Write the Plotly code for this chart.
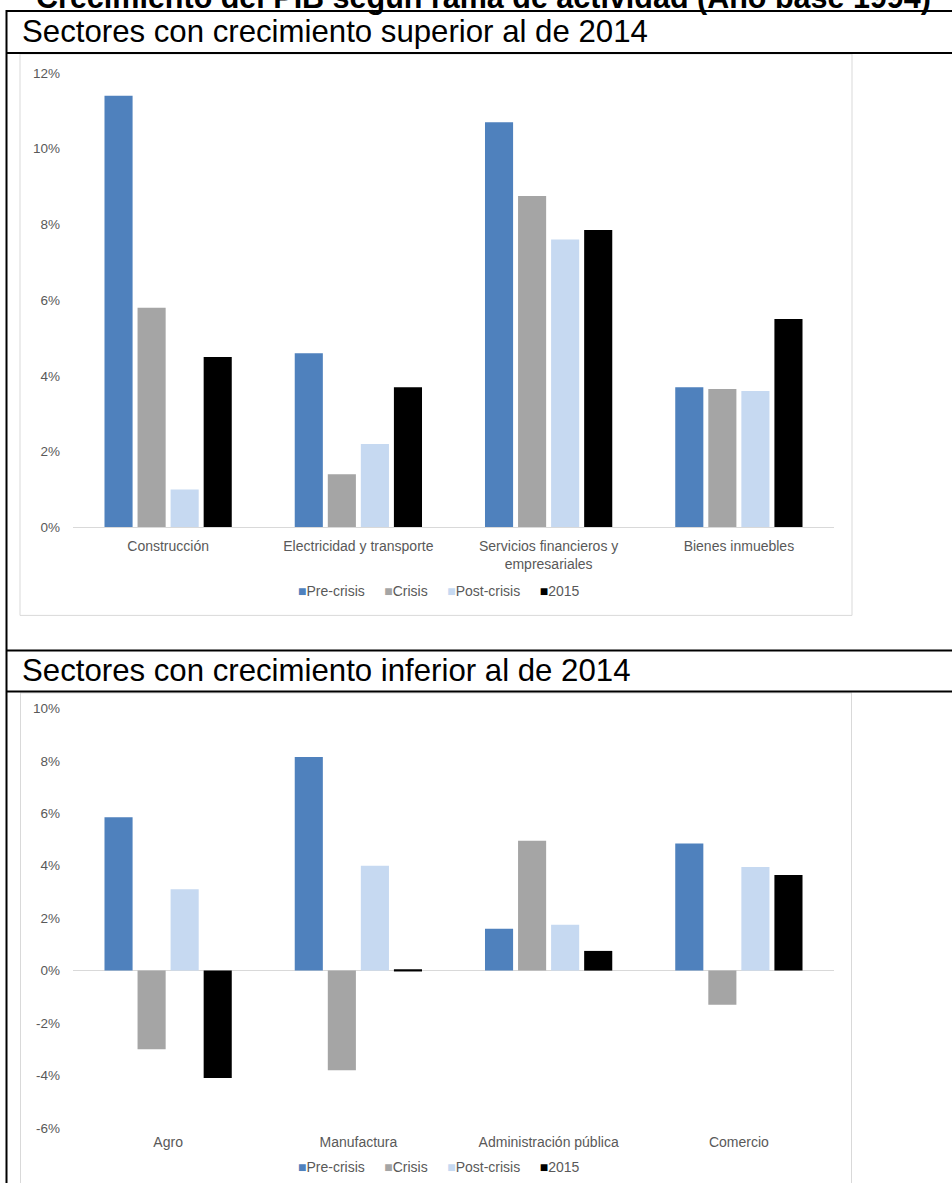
import plotly.graph_objects as go

# Sectores con crecimiento superior al de 2014
cats_sup = ["Construcción", "Electricidad y transporte",
            "Servicios financieros y<br>empresariales", "Bienes inmuebles"]
pre_sup = [11.4, 4.6, 10.7, 3.7]
crisis_sup = [5.8, 1.4, 8.75, 3.65]
post_sup = [1.0, 2.2, 7.6, 3.6]
y2015_sup = [4.5, 3.7, 7.85, 5.5]
ticks_sup = [0, 2, 4, 6, 8, 10, 12]
ticklabels_sup = ["0%", "2%", "4%", "6%", "8%", "10%", "12%"]

# Sectores con crecimiento inferior al de 2014
cats_inf = ["Agro", "Manufactura", "Administración pública", "Comercio"]
pre_inf = [5.85, 8.15, 1.6, 4.85]
crisis_inf = [-3.0, -3.8, 4.95, -1.3]
post_inf = [3.1, 4.0, 1.75, 3.95]
y2015_inf = [-4.1, 0.05, 0.75, 3.65]
ticks_inf = [-6, -4, -2, 0, 2, 4, 6, 8, 10]
ticklabels_inf = ["-6%", "-4%", "-2%", "0%", "2%", "4%", "6%", "8%", "10%"]

series_names = ["Pre-crisis", "Crisis", "Post-crisis", "2015"]
series_colors = ["#4F81BD", "#A5A5A5", "#C6D9F1", "#000000"]

# Layout is specified in screen rows of the final 952 x 1183 view.
# The figure sits a few pixels below the top of the page and the view
# is slightly compressed vertically, so rows are converted accordingly.
ROW0, ROW_SCALE = 7.1, 0.9866
W = 952
H = 1192
FONT = "Liberation Sans, Arial, sans-serif"
GREY_TXT = "#595959"
FRAME = "#D9D9D9"


def px(x):
    return x / W


def py(row):
    """screen row -> paper fraction"""
    return 1 - ((row - ROW0) / ROW_SCALE) / H


fig = go.Figure()

for name, color, vals in zip(series_names, series_colors,
                             [pre_sup, crisis_sup, post_sup, y2015_sup]):
    fig.add_trace(go.Bar(x=cats_sup, y=vals, name=name, marker_color=color,
                         marker_line_width=0, xaxis="x", yaxis="y",
                         showlegend=False))

for name, color, vals in zip(series_names, series_colors,
                             [pre_inf, crisis_inf, post_inf, y2015_inf]):
    fig.add_trace(go.Bar(x=cats_inf, y=vals, name=name, marker_color=color,
                         marker_line_width=0, xaxis="x2", yaxis="y2",
                         showlegend=False))

x_dom = [px(73), px(834)]
axis_common = dict(showgrid=False, ticks="", fixedrange=True)

fig.update_layout(
    width=W, height=H,
    margin=dict(l=0, r=0, t=0, b=0),
    paper_bgcolor="white",
    plot_bgcolor="rgba(0,0,0,0)",
    barmode="group",
    bargap=0.305,
    bargroupgap=0.15,
    font=dict(family=FONT, color=GREY_TXT),
    xaxis=dict(domain=x_dom, anchor="y", showline=True, linecolor=FRAME,
               linewidth=1, tickfont=dict(size=14, color=GREY_TXT),
               ticklabelstandoff=6, **axis_common),
    yaxis=dict(domain=[py(527), py(73)], anchor="x", range=[0, 12],
               tickvals=ticks_sup, ticktext=ticklabels_sup, zeroline=False,
               tickfont=dict(size=13.5, color=GREY_TXT), ticklabelstandoff=12,
               **axis_common),
    xaxis2=dict(domain=x_dom, anchor="y2", showline=False,
                tickfont=dict(size=14, color=GREY_TXT), ticklabelstandoff=4,
                **axis_common),
    yaxis2=dict(domain=[py(1127), py(708)], anchor="x2", range=[-6, 10],
                tickvals=ticks_inf, ticktext=ticklabels_inf, zeroline=True,
                zerolinecolor=FRAME, zerolinewidth=1,
                tickfont=dict(size=13.5, color=GREY_TXT), ticklabelstandoff=12,
                **axis_common),
)


def hline(y, x0, x1, color, width, layer="above"):
    return dict(type="line", xref="paper", yref="paper",
                x0=px(x0), x1=px(x1), y0=py(y), y1=py(y),
                line=dict(color=color, width=width), layer=layer)


def vline(x, y0, y1, color, width, layer="above"):
    return dict(type="line", xref="paper", yref="paper",
                x0=px(x), x1=px(x), y0=py(y1), y1=py(y0),
                line=dict(color=color, width=width), layer=layer)


BOTTOM = 1184
shapes = []
# upper chart frame
shapes.append(dict(type="rect", xref="paper", yref="paper",
                   x0=px(20), x1=px(852), y0=py(615), y1=py(54),
                   line=dict(color=FRAME, width=1),
                   fillcolor="white", layer="below"))
# lower chart frame, open at the bottom of the page
shapes.append(hline(692.5, 20, 852, FRAME, 1, "below"))
shapes.append(vline(20.5, 692, BOTTOM, FRAME, 1, "below"))
shapes.append(vline(851.5, 692, BOTTOM, FRAME, 1, "below"))
# table rules
for yl in [11, 53, 650, 691]:
    shapes.append(hline(yl, 6, 952, "black", 2))
shapes.append(vline(6.5, 10, BOTTOM, "black", 2))
fig.update_layout(shapes=shapes)


def legend_text():
    """Series key: a coloured square in front of each series name."""
    parts = [f"<span style='color:{color}'>■</span>{name}"
             for name, color in zip(series_names, series_colors)]
    return ("&nbsp;" * 5).join(parts)


annotations = [
    dict(text="<b>Crecimiento del PIB según rama de actividad (Año base 1994)</b>",
         x=px(34), y=py(17.5), xref="paper", yref="paper", xanchor="left",
         yanchor="bottom", showarrow=False,
         font=dict(family=FONT, size=30.5, color="black")),
    dict(text="Sectores con crecimiento superior al de 2014",
         x=px(20), y=py(32), xref="paper", yref="paper", xanchor="left",
         yanchor="middle", showarrow=False,
         font=dict(family=FONT, size=31.2, color="black")),
    dict(text="Sectores con crecimiento inferior al de 2014",
         x=px(20), y=py(670), xref="paper", yref="paper", xanchor="left",
         yanchor="middle", showarrow=False,
         font=dict(family=FONT, size=31.2, color="black")),
    dict(text=legend_text(), x=px(438), y=py(591), xref="paper",
         yref="paper", xanchor="center", yanchor="middle", showarrow=False,
         font=dict(family=FONT, size=14, color=GREY_TXT)),
    dict(text=legend_text(), x=px(438), y=py(1166), xref="paper",
         yref="paper", xanchor="center", yanchor="middle", showarrow=False,
         font=dict(family=FONT, size=14, color=GREY_TXT)),
]
fig.update_layout(annotations=annotations)

fig.write_html("out.html")
